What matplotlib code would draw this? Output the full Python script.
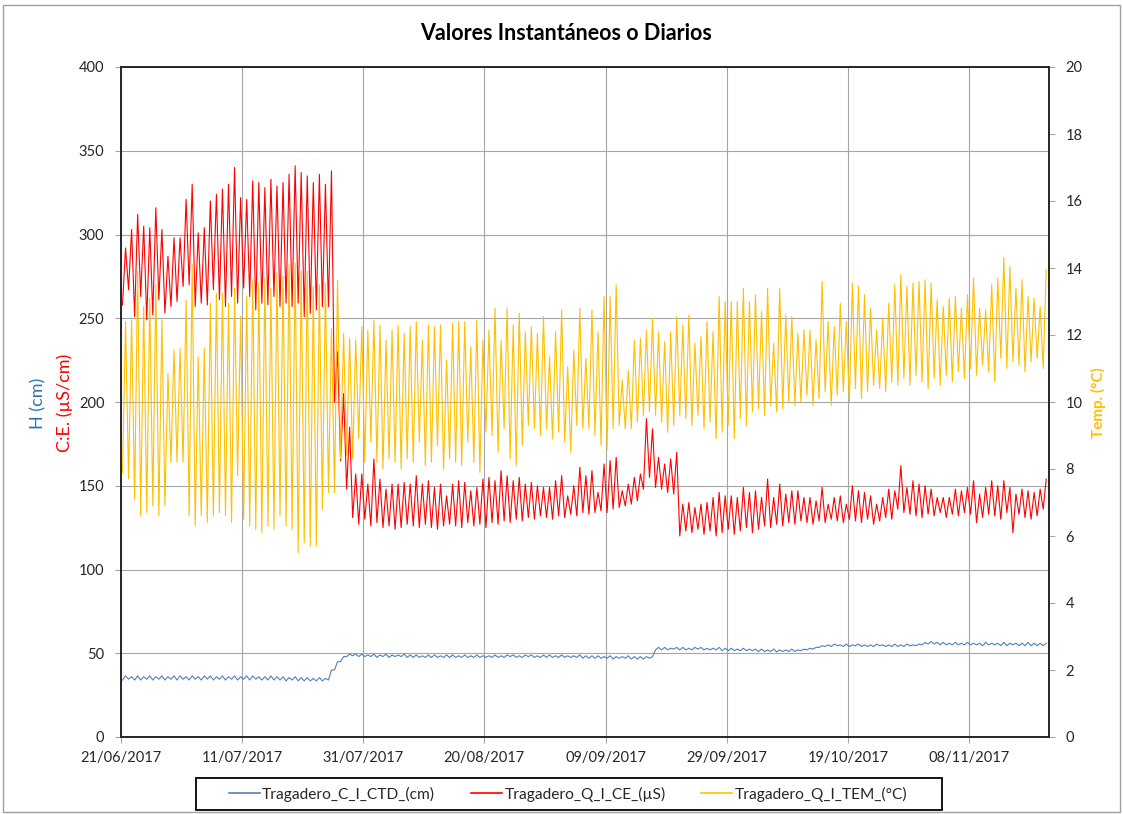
import numpy as np
import matplotlib
matplotlib.use('Agg')
import matplotlib.pyplot as plt
import matplotlib.dates as mdates
from matplotlib.patches import Rectangle
from datetime import datetime, timedelta

# ---------------- data ----------------
start_date = "21/06/2017"
end_date = "21/11/2017"
tick_labels = ["21/06/2017", "11/07/2017", "31/07/2017", "20/08/2017",
               "09/09/2017", "29/09/2017", "19/10/2017", "08/11/2017"]

# daily max / min of C.E. (uS/cm), left axis
ce_max = [292, 303, 312, 305, 304, 316, 303, 287, 298, 298,
          321, 330, 301, 304, 320, 324, 327, 330, 340, 322,
          321, 332, 331, 328, 333, 329, 331, 336, 341, 337,
          335, 331, 336, 330, 338,
          230, 205, 185,
          157, 157, 151, 166, 154, 148, 151, 151, 152, 151,
          156, 151, 153, 149, 151, 144, 151, 153, 152, 147,
          149, 154, 155, 153, 159, 156, 153, 155, 151, 152,
          150, 149, 149, 153, 156, 144, 150, 161, 156, 159,
          146, 163, 165, 167, 147, 151, 155, 157,
          190, 184, 167, 163, 166, 170,
          139, 140, 137, 139, 140, 143, 146, 144, 144, 143,
          149, 146, 147, 143, 154, 143, 151, 145, 147, 147,
          143, 143, 141, 149, 139, 143, 144, 139, 150, 147,
          146, 144, 139, 143, 148, 147, 162, 149, 153, 151,
          150, 148, 143, 143, 143, 148, 147, 149, 153, 145,
          149, 153, 150, 153, 149, 145, 148, 147, 146, 148,
          154]
ce_min = [258, 267, 251, 263, 249, 252, 261, 253, 257, 260,
          269, 270, 257, 259, 258, 267, 261, 257, 263, 259,
          268, 263, 255, 259, 258, 263, 257, 259, 257, 259,
          251, 253, 255, 257, 257,
          200, 165, 148,
          131, 127, 130, 126, 128, 125, 126, 124, 125, 127,
          126, 125, 127, 125, 124, 126, 127, 126, 125, 128,
          126, 127, 125, 128, 127, 129, 128, 130, 129, 131,
          130, 132, 131, 130, 132, 131, 133, 132, 134, 133,
          134, 135, 134, 136, 137, 138, 139, 141,
          148, 155, 149, 148, 146, 145,
          120, 123, 122, 124, 121, 123, 120, 122, 124, 121,
          123, 125, 122, 124, 126, 125, 127, 126, 128, 127,
          129, 128, 127, 129, 128, 130, 129, 128, 130, 129,
          128, 130, 127, 129, 131, 130, 136, 134, 133, 132,
          131, 133, 132, 134, 131, 133, 132, 134, 133, 128,
          131, 133, 132, 130, 134, 122, 133, 131, 130, 132,
          136]

# daily max / min of temperature (deg C), right axis
tem_max = [12.4, 12.45, 13.9, 12.85, 13.1, 13.5, 12.45, 10.85, 11.55, 11.6,
           13.05, 14.1, 11.35, 11.6, 12.95, 13.25, 13.25, 12.95, 13.4, 12.55,
           13.15, 13.65, 13.55, 13.7, 13.4, 13.85, 13.75, 14.1, 14.15, 13.9,
           13.9, 13.45, 13.5, 13.55, 12.2,
           13.64, 12.05, 11.9, 11.85, 12.25, 12.15, 12.45, 12.3, 11.85, 12.15,
           12.3, 12.05, 12.25, 12.4, 11.85, 12.3, 12.25, 12.3, 11.25, 12.35,
           12.4, 12.4, 11.65, 12.45, 11.85, 12.15, 12.8, 11.85, 12.8, 12.3,
           12.65, 12.1, 12.25, 12.05, 12.55, 11.35, 12.1, 12.75, 11.05, 11.55,
           12.8, 11.3, 12.75, 12.1, 13.15, 13.15, 13.5, 10.65, 10.95, 11.85,
           11.9, 12.15, 12.5, 12.1,
           11.8, 12.1, 12.55, 12.3, 12.6, 11.75, 11.95, 12.4, 12.1, 13.15,
           13.0, 13.0, 13.0, 13.4, 13.0, 13.2, 12.7, 13.4, 11.75, 13.4,
           12.6, 12.55, 12.05, 12.15, 12.15, 11.85, 13.6, 12.4, 12.25, 12.95,
           12.4, 13.55, 13.45, 13.2, 12.8, 12.15, 12.5, 12.95, 13.5, 13.8,
           13.45, 13.55, 13.6, 13.65, 13.55, 13.05, 12.85, 13.1, 13.15, 12.8,
           13.2, 13.7, 12.8, 12.75, 13.5, 13.7, 14.3, 14.05, 13.4, 13.65,
           13.15, 13.1, 12.85, 13.95]
tem_min = [7.9, 7.7, 7.1, 6.6, 6.7, 6.9, 6.6, 6.9, 8.2, 8.2,
           8.2, 6.6, 6.3, 6.6, 6.4, 6.6, 6.7, 6.6, 6.4, 7.8,
           6.5, 6.3, 6.2, 6.1, 6.3, 6.2, 6.6, 6.3, 6.2, 5.5,
           5.8, 5.7, 5.7, 6.8, 7.3,
           7.3, 8.3, 8.4, 8.3, 8.9, 8.2, 8.8, 8.2, 8.0, 8.3,
           8.2, 8.0, 8.3, 8.2, 8.8, 8.1, 8.2, 8.7, 8.0, 8.3,
           8.2, 8.1, 8.8, 8.2, 7.9, 9.1, 9.0, 8.5, 9.2, 8.3,
           8.1, 8.7, 9.3, 9.2, 9.0, 9.2, 8.9, 9.1, 8.8, 8.5,
           9.3, 9.2, 9.2, 9.0, 8.7, 8.6, 9.2, 9.3, 9.2, 9.2,
           9.4, 9.6, 9.7, 9.6,
           9.4, 9.1, 9.3, 9.6, 9.5, 9.3, 9.6, 9.2, 9.4, 8.9,
           9.1, 9.3, 8.9, 9.5, 9.3, 9.7, 9.8, 9.6, 9.9, 9.7,
           9.8, 10.0, 9.9, 10.0, 10.2, 9.9, 10.1, 10.3, 9.9, 10.2,
           10.3, 10.0, 10.4, 10.1, 10.3, 10.5, 10.4, 10.3, 10.6, 10.5,
           10.7, 10.5, 10.8, 10.6, 10.4, 10.7, 10.5, 10.8, 10.6, 10.9,
           10.7, 11.0, 10.8, 11.1, 10.9, 10.6, 11.3, 11.0, 11.2, 11.1,
           10.9, 11.2, 11.3, 11.0]

# daily max / min of water level H (cm), left axis
h_max = [36.5, 36, 36.5, 36, 36.5, 36, 36.5, 36, 36.5, 36.5,
         36, 36.5, 36, 36.5, 36.5, 36, 36.5, 36, 36.5, 36,
         36.5, 36.5, 36, 36, 36.5, 36, 36, 35.5, 36, 35.5,
         35.5, 35, 35.5, 35,
         40, 45, 48, 49.5,
         49.5, 49.5, 49, 49.5, 49, 49.5, 49, 49, 49.5, 49,
         49, 48.5, 49, 49, 48.5, 49, 49, 48.5, 49, 48.5,
         49, 48.5, 48.5, 49, 48.5, 49, 49, 48.5, 49, 49,
         48.5, 49, 49, 48.5, 49, 48.5, 48.5, 49, 48.5, 48.5,
         48.5, 48, 48.5, 48, 48, 48.5, 48, 48, 48, 48,
         53.5, 53.5, 53, 53.5, 53.5, 53, 53.5, 53.5, 53, 53,
         53.5, 53, 53, 52.5, 53, 52.5, 52.5,
         52.5, 52, 52.5, 52, 52, 52.5, 52, 52.5, 53,
         53.5, 54.5, 55,
         55.5, 55, 55.5, 55, 55.5, 55, 55, 55.5, 55, 55,
         55.5, 55, 55.5, 55, 55.5,
         56.5, 57, 56.5, 56.5, 56, 56.5, 56, 56.5, 56, 56,
         56.5, 56, 56, 56.5, 56, 56, 56, 56.5, 56, 56, 56]
h_min = [34, 34.5, 34, 34, 34.5, 34, 34.5, 34, 34.5, 34,
         34.5, 34, 34.5, 34, 34.5, 34, 34.5, 34, 34.5, 34,
         34.5, 34, 34.5, 34, 34, 34, 34, 33.5, 34, 33.5,
         33.5, 33.5, 33.5, 33.5,
         34, 40, 45, 48,
         48.5, 48, 48, 48, 47.5, 48, 47.5, 48, 48, 47.5,
         47.5, 47.5, 47.5, 47.5, 47.5, 47.5, 47.5, 47.5, 47.5, 47.5,
         47.5, 47.5, 47.5, 47.5, 47.5, 47.5, 48, 47.5, 47.5, 48,
         47.5, 47.5, 47.5, 47.5, 47.5, 47.5, 47.5, 47.5, 47, 47,
         47, 47, 47, 46.5, 47, 47, 46.5, 46.5, 46.5, 47,
         52, 52, 52, 52.5, 52, 52, 52, 52.5, 52, 52,
         52, 51.5, 51.5, 51.5, 51.5, 51.5, 51.5,
         51, 51, 51, 50.8, 51, 51, 51, 51.5, 52,
         52.5, 53.5, 54,
         54, 54.5, 54, 54, 54.5, 54, 54, 54, 54.5, 54,
         54, 54, 54, 54.5, 54.5,
         55, 55.5, 55.5, 55, 55, 55, 55, 55, 55, 55,
         54.5, 55, 55, 54.5, 54.5, 55, 54.5, 54.5, 54.5, 54.5, 54.5]

series_names = ["Tragadero_C_I_CTD_(cm)", "Tragadero_Q_I_CE_(\u00b5S)",
                "Tragadero_Q_I_TEM_(\u00b0C)"]

# ---------------- styling ----------------
plt.rcParams['font.family'] = ['Lato', 'DejaVu Sans']
C_BLUE = '#4F81BD'
C_RED = '#FF0000'
C_YEL = '#FFC000'
C_HLAB = '#2E75B6'
GRID = '#A6A6A6'
TXT = '#262626'

t0 = datetime.strptime(start_date, "%d/%m/%Y")


def day_series(lo, hi):
    times, vals = [], []
    for d, (a, b) in enumerate(zip(lo, hi)):
        times.append(t0 + timedelta(days=d + 0.25))
        vals.append(a)
        times.append(t0 + timedelta(days=d + 0.75))
        vals.append(b)
    return times, vals


W, H = 1123, 814
fig = plt.figure(figsize=(W / 100, H / 100), dpi=100)
fig.patch.set_facecolor('white')
fig.add_artist(Rectangle((3 / W, 2 / H), 1 - 6 / W, 1 - 7 / H,
                         transform=fig.transFigure, fill=False,
                         edgecolor='#A0A0A0', linewidth=1.0))

ax = fig.add_axes([121 / W, 1 - 737 / H, (1049 - 121) / W, (737 - 67) / H])
ax2 = ax.twinx()

tb, vb = day_series(h_min, h_max)
tr, vr = day_series(ce_min, ce_max)
ty, vy = day_series(tem_min, tem_max)

l1, = ax.plot(tb, vb, color=C_BLUE, lw=0.8, zorder=3)
l2, = ax.plot(tr, vr, color=C_RED, lw=0.8, zorder=2)
l3, = ax2.plot(ty, vy, color=C_YEL, lw=0.8, zorder=2)

ax.set_ylim(0, 400)
ax.set_yticks(np.arange(0, 401, 50))
ax2.set_ylim(0, 20)
ax2.set_yticks(np.arange(0, 21, 2))

tick_dates = [datetime.strptime(s, "%d/%m/%Y") for s in tick_labels]
ax.set_xticks(tick_dates)
ax.xaxis.set_major_formatter(mdates.DateFormatter('%d/%m/%Y'))
ax.set_xlim(t0, datetime.strptime(end_date, "%d/%m/%Y") + timedelta(hours=5))

ax.grid(True, color=GRID, lw=0.8)
ax.set_axisbelow(True)
for a in (ax, ax2):
    for s in a.spines.values():
        s.set_color('#262626')
        s.set_linewidth(1.2)
ax.tick_params(axis='both', colors=GRID, labelcolor=TXT, labelsize=10.5,
               length=4, width=0.8)
ax.tick_params(axis='y', pad=8)
ax.tick_params(axis='x', pad=6)
ax2.tick_params(axis='y', colors=GRID, labelcolor=TXT, labelsize=10.5,
                length=4, width=0.8, pad=8)

fig.text(566 / W, 1 - 33 / H, "Valores Instant\u00e1neos o Diarios",
         ha='center', va='center', fontsize=15.5, fontweight='bold', color='black')
fig.text(38 / W, 1 - 403 / H, "H (cm)", rotation=90, ha='center',
         va='center', fontsize=13, color=C_HLAB)
fig.text(65 / W, 1 - 403 / H, "C:E. (\u00b5S/cm)", rotation=90, ha='center',
         va='center', fontsize=13, color=C_RED)
fig.text(1098 / W, 1 - 403 / H, "Temp. (\u00b0C)", rotation=90, ha='center',
         va='center', fontsize=11, color=C_YEL, fontweight='bold')

# legend: entries laid out by matplotlib, box drawn at the reference position
leg = fig.legend([l1, l2, l3], series_names, ncol=3, loc='center',
                 bbox_to_anchor=(568 / W, 1 - 794 / H), fontsize=11.2,
                 frameon=False, handlelength=2.0, handletextpad=0.15,
                 columnspacing=2.3, borderpad=0.3, borderaxespad=0)
for line in leg.get_lines():
    line.set_linewidth(1.2)
for txt in leg.get_texts():
    txt.set_color(TXT)
fig.add_artist(Rectangle((196 / W, 1 - 810 / H), (942 - 196) / W, 32 / H,
                         transform=fig.transFigure, fill=False,
                         edgecolor='black', linewidth=1.3))

fig.savefig('out.png', dpi=100, facecolor='white')
